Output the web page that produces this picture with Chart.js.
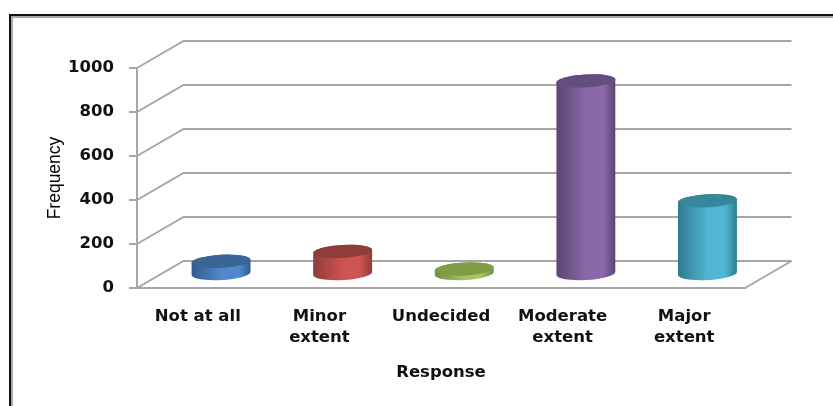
<!DOCTYPE html>
<html>
<head>
<meta charset="utf-8">
<title>Frequency by response</title>
<script src="https://cdn.jsdelivr.net/npm/chart.js@4"></script>
<style>
	html, body { margin: 0; padding: 0; background: #fff; overflow: hidden; }
	#grafico-box { position: relative; width: 833px; height: 406px; }
	#moldura {
		position: absolute; left: 9px; top: 14px; right: -10px; bottom: -10px;
		border: 2px solid #111; outline: 2px solid #a8a8a8; outline-offset: -4px;
	}
</style>
</head>
<body>
<div id="grafico-box">
	<canvas id="grafico" width="833" height="406"></canvas>
	<div id="moldura"></div>
</div>
<script>
var categorias = [["Not at all"], ["Minor", "extent"], ["Undecided"], ["Moderate", "extent"], ["Major", "extent"]];
var frequencias = [60, 105, 25, 880, 335];
var valorMaximo = 1000;
var passoEixo = 200;

// corpo, borda escura e tampa de cada cilindro
var coresCentro = ["#5088cb", "#cd5451", "#a3c45e", "#8968aa", "#50b6d2"];
var coresBorda = ["#2f5d8f", "#8e3b39", "#728c3f", "#5b4673", "#2f7b8e"];
var coresTampa = ["#3a6597", "#8f3d3b", "#7f9c47", "#634e7e", "#37869b"];

// profundidade do piso e das paredes, em pixels
var profX = 46.5;
var profY = 27;

var corGrade = "#a6a6a6";

var paredes = {
	id: "paredes",
	beforeDatasetsDraw(chart) {
		var ctx = chart.ctx;
		var y = chart.scales.y;
		var area = chart.chartArea;
		ctx.save();
		ctx.strokeStyle = corGrade;
		ctx.lineWidth = 2;
		for (var v = 0; v <= valorMaximo; v += passoEixo) {
			var py = y.getPixelForValue(v);
			ctx.beginPath();
			ctx.moveTo(area.left, py);
			ctx.lineTo(area.left + profX, py - profY);
			ctx.lineTo(area.right + profX, py - profY);
			ctx.stroke();
		}
		// lateral direita do piso
		ctx.beginPath();
		ctx.moveTo(area.right, area.bottom);
		ctx.lineTo(area.right + profX, area.bottom - profY);
		ctx.stroke();
		ctx.restore();
	},
	// cilindros no lugar das barras retas
	beforeDatasetDraw(chart, args) {
		var ctx = chart.ctx;
		var barras = chart.getDatasetMeta(args.index).data;
		for (var i = 0; i < barras.length; i++) {
			desenharCilindro(ctx, barras[i], i);
		}
		return false;
	},
};

function desenharCilindro(ctx, barra, i) {
	var cx = barra.x + profX / 2;
	var topo = barra.y - profY / 2;
	var base = barra.base - profY / 2;
	var rx = barra.width / 2;
	var ry = 6.5;
	var giro = -0.055;

	var grad = ctx.createLinearGradient(cx - rx, 0, cx + rx, 0);
	grad.addColorStop(0, coresBorda[i]);
	grad.addColorStop(0.5, coresCentro[i]);
	grad.addColorStop(0.8, coresCentro[i]);
	grad.addColorStop(1, coresBorda[i]);

	ctx.save();
	ctx.fillStyle = grad;
	ctx.beginPath();
	ctx.ellipse(cx, base, rx, ry, giro, 0, Math.PI);
	ctx.ellipse(cx, topo, rx, ry, giro, Math.PI, Math.PI * 2);
	ctx.closePath();
	ctx.fill();

	ctx.fillStyle = coresTampa[i];
	ctx.beginPath();
	ctx.ellipse(cx, topo, rx, ry, giro, 0, Math.PI * 2);
	ctx.fill();
	ctx.restore();
}

var fonteEixoX = { family: "'DejaVu Sans'", size: 16.5, weight: "bold", lineHeight: 1.28 };

new Chart(document.getElementById("grafico"), {
	type: "bar",
	data: {
		labels: categorias,
		datasets: [
			{
				label: "Frequency",
				data: frequencias,
				backgroundColor: coresCentro,
				barPercentage: 0.97,
				categoryPercentage: 0.5,
			},
		],
	},
	options: {
		responsive: false,
		animation: false,
		layout: { padding: { left: 0, right: 88, top: 68, bottom: 0 } },
		plugins: { legend: { display: false }, tooltip: { enabled: false } },
		scales: {
			x: {
				afterFit(escala) { escala.height = 118; },
				grid: { display: false },
				border: { color: corGrade, width: 2 },
				ticks: { color: "#111", font: fonteEixoX, maxRotation: 0, padding: 10 },
				title: {
					display: true,
					text: "Response",
					color: "#111",
					font: { family: "'DejaVu Sans'", size: 16.5, weight: "bold" },
					padding: { top: 0, bottom: 23 },
				},
			},
			y: {
				min: 0,
				max: valorMaximo,
				afterFit(escala) { escala.width = 137; },
				grid: { drawOnChartArea: false, color: corGrade, lineWidth: 2, tickLength: 8 },
				border: { color: corGrade, width: 2 },
				ticks: {
					stepSize: passoEixo,
					color: "#111",
					font: { family: "'DejaVu Sans'", size: 16.5, weight: "bold" },
					padding: 15,
					callback: function (valor) { return String(valor); },
				},
				title: {
					display: true,
					text: "Frequency",
					color: "#000",
					font: { family: "'Liberation Sans'", size: 17.5, weight: "normal" },
					padding: { top: 45, bottom: 0 },
				},
			},
		},
	},
	plugins: [paredes],
});
</script>
</body>
</html>
